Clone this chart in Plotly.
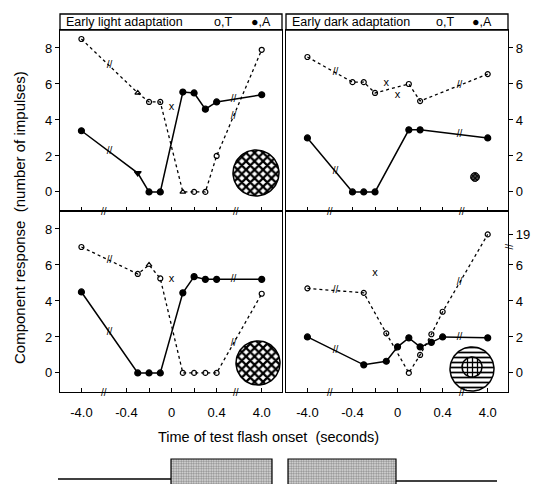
import math
import plotly.graph_objects as go

# ---------------- data ----------------
tick_times = [-4.0, -0.4, 0.0, 0.4, 4.0]
tick_labels = ["-4.0", "-0.4", "0", "0.4", "4.0"]
minor_times = [-0.2, 0.2]
y_ticks = [0, 2, 4, 6, 8]
y_ticks_dark_bottom = [0, 2, 4, 6, 19]

# Early light adaptation, upper panel
light_top_T_t = [-4.0, -0.3, -0.2, -0.1, 0.1, 0.2, 0.3, 0.4, 4.0]
light_top_T = [8.5, 5.5, 5.0, 5.0, 0.0, 0.0, 0.0, 2.0, 7.9]
light_top_T_sym = ["o", "^", "o", "o", "^", "o", "o", "o", "o"]
light_top_A_t = [-4.0, -0.3, -0.2, -0.1, 0.1, 0.2, 0.3, 0.4, 4.0]
light_top_A = [3.4, 1.05, 0.0, 0.0, 5.55, 5.5, 4.6, 5.0, 5.4]
light_top_A_sym = ["o", "v", "o", "o", "o", "o", "o", "o", "o"]
light_top_X_t = [0.0]
light_top_X = [4.7]

# Early dark adaptation, upper panel
dark_top_T_t = [-4.0, -0.4, -0.3, -0.2, 0.1, 0.2, 4.0]
dark_top_T = [7.5, 6.1, 6.1, 5.5, 6.0, 5.05, 6.55]
dark_top_A_t = [-4.0, -0.4, -0.3, -0.2, 0.1, 0.2, 4.0]
dark_top_A = [3.0, 0.0, 0.0, 0.0, 3.45, 3.45, 3.0]
dark_top_X_t = [-0.1, 0.0]
dark_top_X = [6.05, 5.4]

# Early light adaptation, lower panel
light_bot_T_t = [-4.0, -0.3, -0.2, -0.1, 0.1, 0.2, 0.3, 0.4, 4.0]
light_bot_T = [7.0, 5.5, 6.0, 5.25, 0.0, 0.0, 0.0, 0.0, 4.4]
light_bot_T_sym = ["o", "o", "^", "o", "o", "o", "o", "o", "o"]
light_bot_A_t = [-4.0, -0.3, -0.2, -0.1, 0.1, 0.2, 0.3, 0.4, 4.0]
light_bot_A = [4.5, 0.0, 0.0, 0.0, 4.45, 5.35, 5.2, 5.2, 5.2]
light_bot_X_t = [0.0]
light_bot_X = [5.2]

# Early dark adaptation, lower panel
dark_bot_T_t = [-4.0, -0.3, -0.1, 0.1, 0.2, 0.3, 0.4, 4.0]
dark_bot_T = [4.7, 4.45, 2.2, 0.0, 1.0, 2.15, 3.4, 19.0]
dark_bot_A_t = [-4.0, -0.3, -0.1, 0.0, 0.1, 0.2, 0.3, 0.4, 4.0]
dark_bot_A = [2.0, 0.45, 0.65, 1.45, 1.95, 1.45, 1.7, 2.0, 1.95]
dark_bot_X_t = [-0.2]
dark_bot_X = [5.55]

header_light = "Early light adaptation"
header_dark = "Early dark adaptation"
key_T = "o,T"
key_A = "\u25cf,A"
y_title = "Component response  (number of impulses)"
x_title = "Time of test flash onset  (seconds)"

# ---------------- scales ----------------
W, H = 533, 484
FONT = "Liberation Sans, Arial, sans-serif"
BREAK_AT = 0.55   # axis position where the time axis is broken


def tpos(t):
    """broken time axis: linear in [-0.4, 0.4], compressed outside"""
    if abs(t) <= 0.4:
        return t
    return math.copysign(0.4 + (abs(t) - 0.4) / 9.0, t)


def vpos(v):
    """broken response axis (only used above 9)"""
    if v <= 9:
        return v
    return 7.7 + (v - 19) * 0.1


def px(xp):
    return xp / W


def py(yp):
    return 1 - yp / H


COLS = [(60, 282), (286, 508)]
ROWS = [(30, 211), (211, 392)]
XR = [-0.99, 0.98]
YR = [-1.06, 9.0]

fig = go.Figure()

panels = [
    dict(ax=1, col=0, row=0, T=(light_top_T_t, light_top_T, light_top_T_sym),
         A=(light_top_A_t, light_top_A, light_top_A_sym), X=(light_top_X_t, light_top_X)),
    dict(ax=2, col=1, row=0, T=(dark_top_T_t, dark_top_T, None),
         A=(dark_top_A_t, dark_top_A, None), X=(dark_top_X_t, dark_top_X)),
    dict(ax=3, col=0, row=1, T=(light_bot_T_t, light_bot_T, light_bot_T_sym),
         A=(light_bot_A_t, light_bot_A, None), X=(light_bot_X_t, light_bot_X)),
    dict(ax=4, col=1, row=1, T=(dark_bot_T_t, dark_bot_T, None),
         A=(dark_bot_A_t, dark_bot_A, None), X=(dark_bot_X_t, dark_bot_X)),
]

open_map = {"o": "circle-open", "^": "triangle-up-open"}
fill_map = {"o": "circle", "v": "triangle-down"}

annotations = []
for p in panels:
    i = p["ax"]
    xa, ya = ("x" if i == 1 else f"x{i}"), ("y" if i == 1 else f"y{i}")
    for key, dash, symmap, msize in (("T", "3px,3px", open_map, 5), ("A", "solid", fill_map, 6)):
        ts, vs, syms = p[key]
        if syms is None:
            syms = ["o"] * len(ts)
        xs = [tpos(t) for t in ts]
        ys = [vpos(v) for v in vs]
        fig.add_trace(go.Scatter(
            x=xs, y=ys, mode="lines+markers", xaxis=xa, yaxis=ya,
            line=dict(color="black", width=1.3 if key == "T" else 1.5, dash=dash),
            marker=dict(symbol=[symmap[s] for s in syms], size=msize, color="black",
                        line=dict(color="black", width=1.2)),
            showlegend=False, hoverinfo="skip"))
        # break marks where a segment crosses the axis break
        bx, by = [], []
        for k in range(len(ts) - 1):
            if (abs(ts[k]) > 0.4) != (abs(ts[k + 1]) > 0.4):
                xb = math.copysign(BREAK_AT, ts[k] + ts[k + 1])
                f = (xb - xs[k]) / (xs[k + 1] - xs[k])
                bx.append(xb)
                by.append(ys[k] + f * (ys[k + 1] - ys[k]))
        fig.add_trace(go.Scatter(
            x=bx, y=by, mode="text", text=["//"] * len(bx), xaxis=xa, yaxis=ya,
            textfont=dict(size=10, color="black", family=FONT),
            showlegend=False, hoverinfo="skip"))
    xt, xv = p["X"]
    fig.add_trace(go.Scatter(
        x=[tpos(t) for t in xt], y=xv, mode="text", text=["x"] * len(xt),
        xaxis=xa, yaxis=ya, textfont=dict(size=11, color="black", family=FONT),
        showlegend=False, hoverinfo="skip"))

    c0, c1 = COLS[p["col"]]
    r0, r1 = ROWS[p["row"]]
    xtv = [tpos(t) for t in tick_times] + [tpos(t) for t in minor_times]
    xtt = tick_labels + [""] * len(minor_times)
    yt = y_ticks_dark_bottom if i == 4 else y_ticks
    fig.update_layout(**{
        ("xaxis" if i == 1 else f"xaxis{i}"): dict(
            domain=[px(c0), px(c1)], range=XR, anchor=ya,
            tickvals=xtv, ticktext=xtt, showticklabels=(p["row"] == 1),
            ticks="inside", ticklen=4, tickcolor="black", tickwidth=1.2,
            ticklabelstandoff=8,
            showline=True, mirror=True, linecolor="black", linewidth=1.3,
            showgrid=False, zeroline=False, fixedrange=True,
            tickfont=dict(family=FONT, size=13, color="black")),
        ("yaxis" if i == 1 else f"yaxis{i}"): dict(
            domain=[py(r1), py(r0)], range=YR, anchor=xa,
            side="left" if p["col"] == 0 else "right",
            tickvals=[vpos(v) for v in yt], ticktext=[str(v) for v in yt],
            ticks="outside", ticklen=4, tickcolor="black", tickwidth=1.2,
            showline=True, mirror=True, linecolor="black", linewidth=1.3,
            showgrid=False, zeroline=False, fixedrange=True,
            tickfont=dict(family=FONT, size=13, color="black")),
    })
    # axis break marks on the time axis
    for bt in (-0.6, 0.57):
        annotations.append(dict(x=bt, y=YR[0], xref=xa, yref=ya, text="//",
                                xanchor="center", yanchor="middle",
                                showarrow=False, font=dict(size=10, family=FONT, color="black")))

# break on the right axis of the lower dark panel
annotations.append(dict(x=1.0, y=7.0, xref="x4 domain", yref="y4", text="//",
                        xanchor="center", yanchor="middle",
                        textangle=90, showarrow=False,
                        font=dict(size=10, family=FONT, color="black")))

# headers
HDR_Y = 22
for (c0, c1), txt, kx in ((COLS[0], header_light, (223, 261)), (COLS[1], header_dark, (445, 482))):
    annotations.append(dict(x=px(c0 + 4), y=py(HDR_Y), xref="paper", yref="paper", text=txt,
                            xanchor="left", yanchor="middle", showarrow=False,
                            font=dict(size=12.5, family=FONT, color="black")))
    annotations.append(dict(x=px(kx[0]), y=py(HDR_Y), xref="paper", yref="paper", text=key_T,
                            xanchor="center", yanchor="middle",
                            showarrow=False, font=dict(size=12.5, family=FONT, color="black")))
    annotations.append(dict(x=px(kx[1]), y=py(HDR_Y), xref="paper", yref="paper", text=key_A,
                            xanchor="center", yanchor="middle",
                            showarrow=False, font=dict(size=12.5, family=FONT, color="black")))

annotations.append(dict(x=px(20), y=py(218), xref="paper", yref="paper", text=y_title,
                        xanchor="center", yanchor="middle",
                        textangle=-90, showarrow=False,
                        font=dict(size=15, family=FONT, color="black")))
annotations.append(dict(x=px(268), y=py(437), xref="paper", yref="paper", text=x_title,
                        xanchor="center", yanchor="middle",
                        showarrow=False, font=dict(size=14.5, family=FONT, color="black")))

shapes = []
for c0, c1 in COLS:
    shapes.append(dict(type="rect", xref="paper", yref="paper",
                       x0=px(c0), x1=px(c1), y0=py(30), y1=py(14),
                       line=dict(color="black", width=1.3)))

# ---------------- decorations on an overlay pixel axis ----------------
def circle(cx, cy, r, n=80):
    xs = [cx + r * math.cos(2 * math.pi * k / n) for k in range(n + 1)]
    ys = [cy + r * math.sin(2 * math.pi * k / n) for k in range(n + 1)]
    return xs, ys


def add_circle(cx, cy, r, shape, size, solidity, bg="white", lw=1.5):
    xs, ys = circle(cx, cy, r)
    fig.add_trace(go.Scatter(
        x=xs, y=ys, mode="lines", fill="toself", xaxis="x5", yaxis="y5",
        fillcolor=bg,
        fillpattern=dict(shape=shape, fgcolor="black", fgopacity=1, bgcolor=bg,
                         size=size, solidity=solidity),
        line=dict(color="black", width=lw), showlegend=False, hoverinfo="skip"))


add_circle(256, 173, 23, "x", 6, 0.6)
add_circle(258, 363, 22, "x", 6, 0.6)
add_circle(475, 177, 4.5, "x", 3, 0.6, bg="#555", lw=1)
add_circle(472, 369, 22, "-", 5, 0.35)
add_circle(472, 367, 10, "+", 5, 0.45)


def add_box(x0, x1, y0, y1):
    fig.add_trace(go.Scatter(
        x=[x0, x0, x1, x1, x0], y=[y1, y0, y0, y1, y1], mode="lines", fill="toself",
        xaxis="x5", yaxis="y5", fillcolor="white",
        fillpattern=dict(shape=".", fgcolor="#333", bgcolor="#e2e2e2", size=2.5, solidity=0.5),
        line=dict(color="black", width=1.2), showlegend=False, hoverinfo="skip"))


fig.add_trace(go.Scatter(x=[58, 171], y=[479, 479], mode="lines", xaxis="x5", yaxis="y5",
                         line=dict(color="black", width=1.3), showlegend=False, hoverinfo="skip"))
fig.add_trace(go.Scatter(x=[396, 497], y=[481, 481], mode="lines", xaxis="x5", yaxis="y5",
                         line=dict(color="black", width=1.3), showlegend=False, hoverinfo="skip"))
add_box(171, 272, 459, 486)
add_box(288, 396, 459, 486)

fig.update_layout(
    xaxis5=dict(domain=[0, 1], range=[0, W], anchor="y5", visible=False, fixedrange=True),
    yaxis5=dict(domain=[0, 1], range=[H, 0], anchor="x5", visible=False, fixedrange=True),
    width=W, height=H, margin=dict(l=0, r=0, t=0, b=0),
    paper_bgcolor="white", plot_bgcolor="rgba(0,0,0,0)",
    annotations=annotations, shapes=shapes, showlegend=False,
    font=dict(family=FONT, color="black"),
)

fig.write_html("out.html", config={"displayModeBar": False},
               post_script="document.body.style.margin='0px';document.body.style.overflow='hidden';")
